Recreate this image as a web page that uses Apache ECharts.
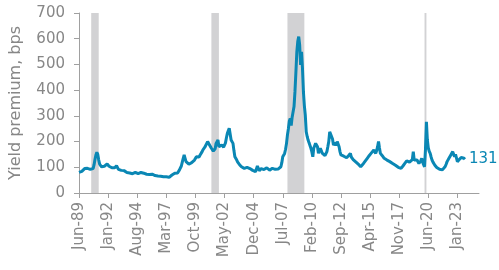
<!DOCTYPE html>
<html>
<head>
<meta charset="utf-8">
<script src="https://cdn.jsdelivr.net/npm/echarts@6/dist/echarts.min.js"></script>
<style>html,body{margin:0;padding:0;background:#fff}#c{width:499px;height:270px}</style>
</head>
<body>
<div id="c"></div>
<script>
// Monthly yield premium (bps), Jun-89 .. Sep-23
const premium = [
80,81,83,84,82,88,95,100,98,96,95,94,
92,90,87,95,109,130,148,158,150,128,112,105,
102,100,100,104,108,110,113,108,104,100,100,98,
96,96,98,102,106,100,92,94,90,88,89,87,
87,85,83,80,82,79,78,77,76,75,73,76,
80,78,76,75,74,78,80,82,79,77,75,74,
73,72,71,72,73,72,73,70,69,68,67,66,
66,65,66,65,64,64,63,64,64,63,62,62,
61,60,63,70,72,75,77,75,73,78,83,90,
96,105,120,135,148,135,122,118,115,112,109,112,
118,120,122,128,135,141,138,135,140,148,154,160,
168,174,178,176,180,200,194,187,180,174,168,163,
163,172,193,200,206,180,185,187,187,182,178,180,
195,215,232,242,252,252,206,200,193,165,141,135,
128,120,115,110,105,102,100,98,96,97,99,100,
100,97,95,93,90,88,86,86,83,83,105,95,
87,92,95,98,94,91,89,93,98,95,92,89,
92,95,96,94,93,92,93,94,93,92,95,102,
118,141,148,154,170,193,226,250,280,290,262,295,
290,336,394,470,549,590,608,576,498,549,485,394,
340,303,238,220,206,195,185,174,160,141,174,180,
193,186,180,154,165,174,165,155,148,150,145,141,
161,180,200,238,245,245,210,187,190,195,185,200,
206,180,160,148,150,145,143,141,138,137,135,145,
150,154,140,135,130,128,125,120,117,115,110,106,
102,101,105,115,120,125,130,135,140,145,150,154,
158,160,167,160,154,165,180,200,175,154,150,145,
140,135,133,130,128,126,124,122,120,118,115,114,
112,108,104,102,100,98,97,96,98,105,110,115,
120,125,128,124,120,121,122,130,161,128,135,130,
128,122,115,118,125,135,120,110,102,170,277,206,
175,162,154,140,128,120,115,108,102,99,97,95,
92,89,88,90,92,96,103,112,122,128,135,142,
148,155,161,150,141,150,157,122,126,130,135,138,
141,141,135,131
];
const tickLabels = ['Jun-89','Jan-92','Aug-94','Mar-97','Oct-99','May-02','Dec-04','Jul-07','Feb-10','Sep-12','Apr-15','Nov-17','Jun-20','Jan-23'];
const recessions = [['Jul-90','Mar-91'],['Mar-01','Nov-01'],['Dec-07','Jun-09'],['Feb-20','Apr-20']];
const yTicks = [0,100,200,300,400,500,600,700];

// Month categories Jun-89 .. Dec-24
const mon = ['Jan','Feb','Mar','Apr','May','Jun','Jul','Aug','Sep','Oct','Nov','Dec'];
const categories = [];
for (let k = 0; k < 427; k++) {
  const m = (5 + k) % 12, y = 1989 + Math.floor((5 + k) / 12);
  categories.push(mon[m] + '-' + String(y % 100).padStart(2, '0'));
}
const tickSet = new Set(tickLabels);
const gray = '#878787';
const chart = echarts.init(document.getElementById('c'));
chart.setOption({
  animation: false,
  grid: {left: 77, right: 20, top: 13, bottom: 77},
  xAxis: {
    type: 'category', data: categories, boundaryGap: false,
    axisLine: {lineStyle: {color: '#a0a0a0', width: 1}},
    axisTick: {show: true, length: 5, interval: (i, v) => tickSet.has(v), lineStyle: {color: '#a0a0a0'}},
    axisLabel: {interval: (i, v) => tickSet.has(v), rotate: 90, margin: 9, color: gray,
      fontFamily: 'DejaVu Sans', fontSize: 15},
    splitLine: {show: false}
  },
  yAxis: {
    type: 'value', min: 0, max: 700, interval: 100,
    name: 'Yield premium, bps', nameLocation: 'middle', nameRotate: 90, nameGap: 55,
    nameTextStyle: {color: gray, fontFamily: 'DejaVu Sans', fontSize: 16},
    axisLine: {show: true, lineStyle: {color: '#a0a0a0', width: 1}},
    axisTick: {show: true, length: 5, lineStyle: {color: '#a0a0a0'}},
    axisLabel: {color: gray, fontFamily: 'DejaVu Sans', fontSize: 15, margin: 14,
      formatter: v => yTicks.includes(v) ? String(v) : ''},
    splitLine: {show: false}
  },
  series: [{
    type: 'line', data: premium, showSymbol: false, symbol: 'none',
    lineStyle: {color: '#0a87b4', width: 3},
    itemStyle: {color: '#0a87b4'},
    endLabel: {show: true, formatter: '{c}', color: '#0a87b4', fontFamily: 'DejaVu Sans', fontSize: 15, distance: 4},
    markArea: {
      silent: true,
      itemStyle: {color: '#d2d2d4'},
      data: recessions.map(r => [{xAxis: r[0]}, {xAxis: r[1]}])
    },
    z: 3
  }]
});
</script>
</body>
</html>
